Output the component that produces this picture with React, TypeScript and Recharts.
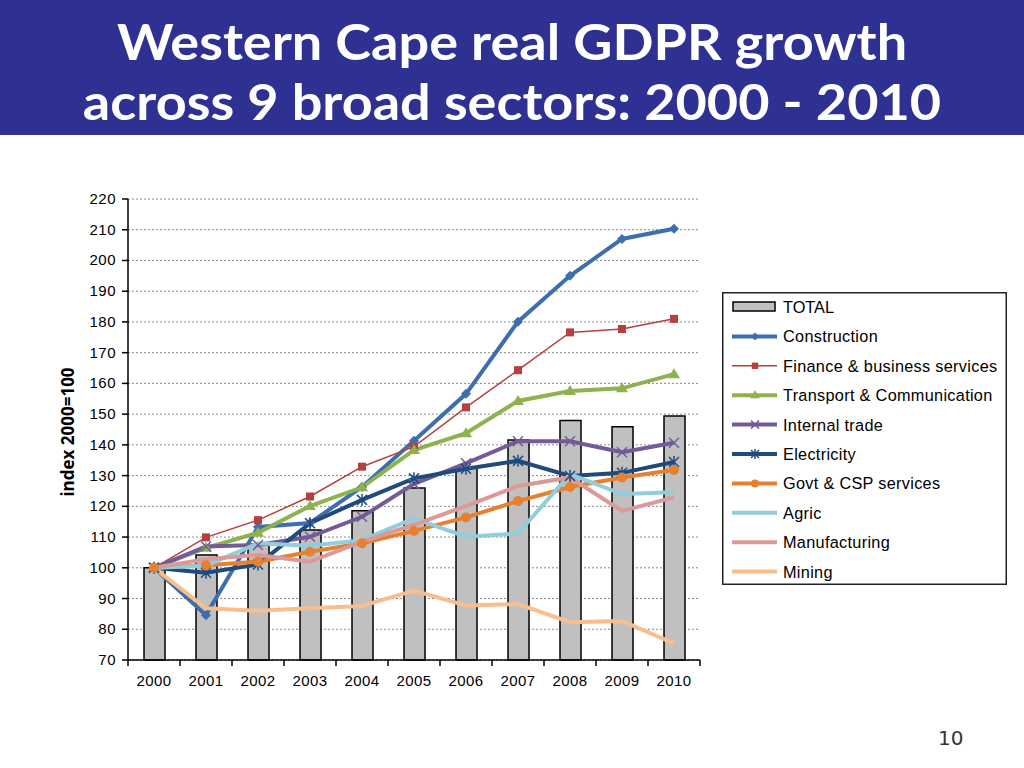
import {
  ComposedChart,
  Bar,
  Line,
  XAxis,
  YAxis,
  CartesianGrid,
} from 'recharts'

const years = ['2000', '2001', '2002', '2003', '2004', '2005', '2006', '2007', '2008', '2009', '2010']
const yTicks = [70, 80, 90, 100, 110, 120, 130, 140, 150, 160, 170, 180, 190, 200, 210, 220]

const total = [100, 104.2, 107.5, 112.3, 118.6, 126, 132.5, 141.6, 147.9, 145.9, 149.4]
const construction = [100, 84.6, 113.3, 114.6, 126.3, 141.3, 156.6, 180.1, 195, 207, 210.3]
const finance = [100, 109.9, 115.5, 123.2, 132.9, 139.4, 152.2, 164.3, 176.6, 177.7, 181]
const transport = [100, 106.5, 111.4, 120.1, 126.2, 138.3, 143.8, 154.3, 157.5, 158.4, 163]
const internalTrade = [100, 106.9, 107.4, 110.1, 116.6, 127.3, 134, 141.2, 141.2, 137.6, 140.7]
const electricity = [100, 98.4, 101.1, 114.5, 122.1, 129.1, 132.2, 134.8, 129.9, 130.9, 134.4]
const govt = [100, 100.8, 102, 105.2, 108, 112, 116.4, 121.7, 126.3, 129.4, 131.8]
const agric = [100, 100.7, 108, 107.2, 109, 116.1, 110.1, 111.2, 130.5, 124, 124.6]
const manufacturing = [100, 102.8, 104.2, 102, 108.5, 114, 120.1, 126.6, 129.4, 118.5, 122.9]
const mining = [100, 86.8, 86, 86.8, 87.6, 92.6, 87.7, 88.2, 82.3, 82.7, 75.4]

type Marker = 'diamond' | 'square' | 'triangle' | 'x' | 'star' | 'circle' | 'none'

const series: { key: string; name: string; color: string; width: number; marker: Marker }[] = [
  { key: 'construction', name: 'Construction', color: '#3E6EAD', width: 4, marker: 'diamond' },
  { key: 'finance', name: 'Finance & business services', color: '#B5403D', width: 1.5, marker: 'square' },
  { key: 'transport', name: 'Transport & Communication', color: '#8DB24F', width: 4, marker: 'triangle' },
  { key: 'internalTrade', name: 'Internal trade', color: '#735A98', width: 4, marker: 'x' },
  { key: 'electricity', name: 'Electricity', color: '#1E4A7C', width: 4, marker: 'star' },
  { key: 'govt', name: 'Govt & CSP services', color: '#E6812F', width: 4, marker: 'circle' },
  { key: 'agric', name: 'Agric', color: '#92CDDC', width: 4, marker: 'none' },
  { key: 'manufacturing', name: 'Manufacturing', color: '#DB9A98', width: 4, marker: 'none' },
  { key: 'mining', name: 'Mining', color: '#F9BE8E', width: 4, marker: 'none' },
]

const data = years.map((year, i) => ({
  year,
  total: total[i],
  construction: construction[i],
  finance: finance[i],
  transport: transport[i],
  internalTrade: internalTrade[i],
  electricity: electricity[i],
  govt: govt[i],
  agric: agric[i],
  manufacturing: manufacturing[i],
  mining: mining[i],
}))

const FONT = 'Liberation Sans, Arial, sans-serif'

function markerShape(kind: Marker, cx: number, cy: number, color: string, size = 1) {
  const s = 5 * size
  switch (kind) {
    case 'diamond':
      return <polygon points={`${cx},${cy - s} ${cx + s},${cy} ${cx},${cy + s} ${cx - s},${cy}`} fill={color} />
    case 'square':
      return <rect x={cx - 4 * size} y={cy - 4 * size} width={8 * size} height={8 * size} fill={color} />
    case 'triangle':
      return <polygon points={`${cx},${cy - s - 1} ${cx + s + 1},${cy + s - 1} ${cx - s - 1},${cy + s - 1}`} fill={color} />
    case 'x':
      return (
        <g stroke={color} strokeWidth={1.5}>
          <line x1={cx - s} y1={cy - s} x2={cx + s} y2={cy + s} />
          <line x1={cx - s} y1={cy + s} x2={cx + s} y2={cy - s} />
        </g>
      )
    case 'star':
      return (
        <g stroke={color} strokeWidth={1.5}>
          <line x1={cx - s} y1={cy - s} x2={cx + s} y2={cy + s} />
          <line x1={cx - s} y1={cy + s} x2={cx + s} y2={cy - s} />
          <line x1={cx} y1={cy - s - 1} x2={cx} y2={cy + s + 1} />
        </g>
      )
    case 'circle':
      return <circle cx={cx} cy={cy} r={s} fill={color} />
    default:
      return <g />
  }
}

const makeDot = (kind: Marker, color: string) => (props: any) => {
  const { cx, cy, index } = props
  if (kind === 'none' || cx == null || cy == null) return <g key={`d-${index}`} />
  return <g key={`d-${index}`}>{markerShape(kind, cx, cy, color)}</g>
}

function XTick(props: any) {
  const { x, y, payload, index } = props
  const half = 26
  return (
    <g>
      <line x1={x - half} y1={y - 8} x2={x - half} y2={y - 2} stroke="#000" strokeWidth={1.5} />
      {index === years.length - 1 && (
        <line x1={x + half} y1={y - 8} x2={x + half} y2={y - 2} stroke="#000" strokeWidth={1.5} />
      )}
      <text x={x} y={y + 18} textAnchor="middle" fontSize={15} fill="#000" letterSpacing={0.4} fontFamily={FONT}>
        {payload.value}
      </text>
    </g>
  )
}

function YTick(props: any) {
  const { x, y, payload } = props
  return (
    <text x={x - 4} y={y + 5} textAnchor="end" fontSize={15} fill="#000" letterSpacing={0.5} fontFamily={FONT}>
      {payload.value}
    </text>
  )
}

function LegendBox() {
  const rowH = 29.4
  return (
    <svg width={285} height={293} style={{ position: 'absolute', left: 722, top: 292 }}>
      <rect x={0.75} y={0.75} width={283.5} height={291.5} fill="#fff" stroke="#222" strokeWidth={1.5} />
      <rect x={11} y={10} width={42} height={9} fill="#C0C0C0" stroke="#000" strokeWidth={1.5} />
      <text x={61} y={20.5} fontSize={16.3} fill="#000" fontFamily={FONT}>TOTAL</text>
      {series.map((s, i) => {
        const cy = 15 + rowH * (i + 1)
        return (
          <g key={s.key}>
            <line x1={10} y1={cy} x2={55} y2={cy} stroke={s.color} strokeWidth={s.width} />
            {markerShape(s.marker, 33, cy, s.color, 0.8)}
            <text x={61} y={cy + 6} fontSize={16.3} fill="#000" letterSpacing={0.3} fontFamily={FONT}>
              {s.name}
            </text>
          </g>
        )
      })}
    </svg>
  )
}

const titleLine = {
  height: 60,
  lineHeight: '60px',
  whiteSpace: 'nowrap' as const,
  transform: 'scaleX(1.08)',
  transformOrigin: 'center',
}

export default function App() {
  return (
    <div style={{ position: 'fixed', left: 0, top: 0, width: 1024, height: 768, background: '#fff', overflow: 'hidden' }}>
      <div
        style={{
          position: 'absolute',
          left: 0,
          top: 0,
          width: 1024,
          height: 135,
          background: '#2E3192',
          color: '#fff',
          fontFamily: 'Lato, "Open Sans", sans-serif',
          fontWeight: 700,
          fontSize: 50,
          textAlign: 'center',
          paddingTop: 11,
          boxSizing: 'border-box',
        }}
      >
        <div style={titleLine}>Western Cape real GDPR growth</div>
        <div style={titleLine}>across 9 broad sectors: 2000 - 2010</div>
      </div>
      <div
        style={{
          position: 'absolute',
          left: 67,
          top: 432,
          transform: 'translate(-50%, -50%) rotate(-90deg)',
          fontFamily: '"Open Sans", sans-serif',
          fontWeight: 700,
          fontSize: 17,
          whiteSpace: 'nowrap',
          color: '#000',
        }}
      >
        index 2000=100
      </div>
      <div style={{ position: 'absolute', left: 0, top: 0 }}>
        <ComposedChart
          width={1024}
          height={768}
          data={data}
          margin={{ top: 199, right: 324, bottom: 78, left: 68 }}
          barCategoryGap={0}
        >
          <CartesianGrid vertical={false} stroke="#888" strokeDasharray="2 2" />
          <XAxis
            dataKey="year"
            tick={<XTick />}
            tickLine={false}
            axisLine={{ stroke: '#000', strokeWidth: 1.5 }}
            height={30}
            interval={0}
          />
          <XAxis
            xAxisId="top"
            dataKey="year"
            orientation="top"
            tick={false}
            tickLine={false}
            axisLine={{ stroke: '#000', strokeWidth: 1.5 }}
            height={0}
          />
          <YAxis
            domain={[70, 220]}
            ticks={yTicks}
            interval={0}
            width={60}
            tick={<YTick />}
            tickLine={{ stroke: '#000', strokeWidth: 1.5 }}
            tickSize={6}
            axisLine={{ stroke: '#000', strokeWidth: 1.5 }}
          />
          <YAxis
            yAxisId="right"
            orientation="right"
            domain={[70, 220]}
            tick={false}
            tickLine={false}
            axisLine={{ stroke: '#000', strokeWidth: 1.5 }}
            width={0}
          />
          <Bar dataKey="total" name="TOTAL" fill="#C0C0C0" stroke="#000" strokeWidth={1.5} barSize={21} isAnimationActive={false} />
          {series.map((s) => (
            <Line
              key={s.key}
              dataKey={s.key}
              name={s.name}
              stroke={s.color}
              strokeWidth={s.width}
              type="linear"
              dot={makeDot(s.marker, s.color)}
              activeDot={false}
              isAnimationActive={false}
            />
          ))}
        </ComposedChart>
      </div>
      <LegendBox />
      <div
        style={{
          position: 'absolute',
          left: 938,
          top: 726,
          fontFamily: '"DejaVu Sans", sans-serif',
          fontSize: 20,
          color: '#333',
        }}
      >
        10
      </div>
    </div>
  )
}
